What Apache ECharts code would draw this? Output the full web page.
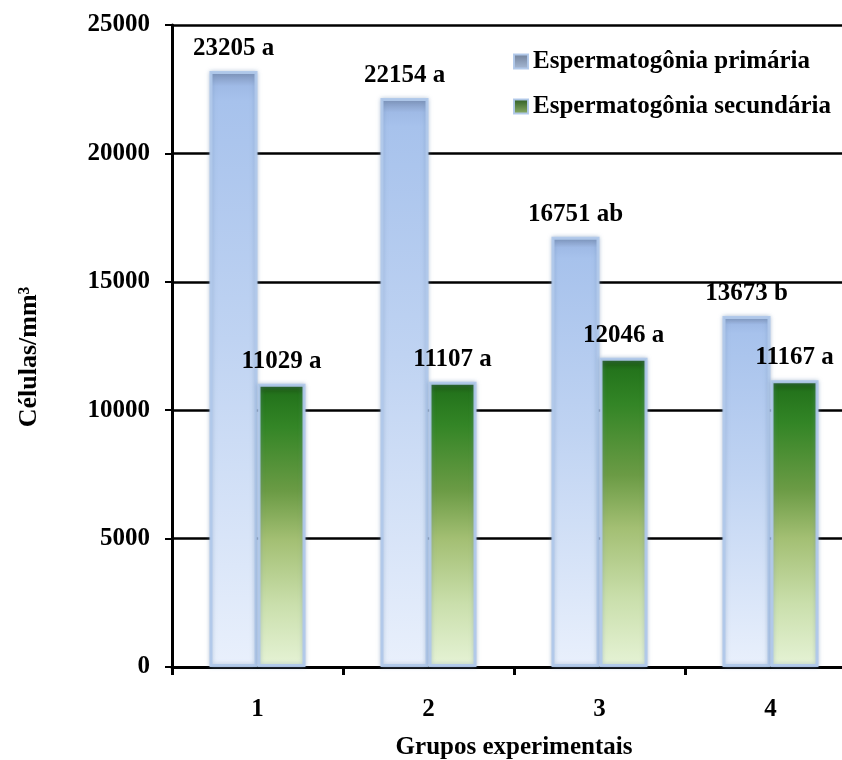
<!DOCTYPE html>
<html>
<head>
<meta charset="utf-8">
<script src="https://cdn.jsdelivr.net/npm/echarts@6/dist/echarts.min.js"></script>
<style>
  html, body { margin: 0; padding: 0; background: #ffffff; }
  #chart { width: 842px; height: 760px; }
</style>
</head>
<body>
<div id="chart"></div>
<script>
// Experimental groups on the x axis
const categories = ['1', '2', '3', '4'];

// Cell counts per mm³ and their significance letters
const primariaValues = [23205, 22154, 16751, 13673];
const primariaLetters = ['a', 'a', 'ab', 'b'];
const secundariaValues = [11029, 11107, 12046, 11167];
const secundariaLetters = ['a', 'a', 'a', 'a'];

const seriesNames = ['Espermatogônia primária', 'Espermatogônia secundária'];
const yTicks = { min: 0, max: 25000, interval: 5000 };

const FONT = '"Liberation Serif", "Times New Roman", serif';

const chart = echarts.init(document.getElementById('chart'), null, { renderer: 'canvas' });

const blueFill = new echarts.graphic.LinearGradient(0, 0, 0, 1, [
  { offset: 0, color: '#7a8fb4' },
  { offset: 0.025, color: '#9fbae6' },
  { offset: 0.05, color: '#a7c2ec' },
  { offset: 0.45, color: '#bfd3f2' },
  { offset: 1, color: '#e9f0fc' }
]);
const greenFill = new echarts.graphic.LinearGradient(0, 0, 0, 1, [
  { offset: 0, color: '#1b4f14' },
  { offset: 0.04, color: '#24741c' },
  { offset: 0.15, color: '#338526' },
  { offset: 0.38, color: '#6b9b45' },
  { offset: 0.55, color: '#a3bf73' },
  { offset: 0.78, color: '#cadfac' },
  { offset: 1, color: '#e6f3d6' }
]);
const legendBlue = new echarts.graphic.LinearGradient(0, 0, 0, 1, [
  { offset: 0, color: '#6f7f98' },
  { offset: 1, color: '#a9bcd8' }
]);
const legendGreen = new echarts.graphic.LinearGradient(0, 0, 0, 1, [
  { offset: 0, color: '#2b5a22' },
  { offset: 1, color: '#8fb06a' }
]);

const labelStyle = {
  show: true,
  position: 'top',
  distance: 10,
  fontFamily: FONT,
  fontWeight: 'bold',
  fontSize: 25,
  color: '#000'
};

const barBase = {
  type: 'bar',
  barWidth: 48,
  barGap: '0%'
};

chart.setOption({
  animation: false,
  backgroundColor: '#ffffff',
  textStyle: { fontFamily: FONT },
  grid: {
    left: 172, top: 25, width: 684, height: 642,
    containLabel: false,
    outerBoundsMode: 'none'
  },
  legend: {
    orient: 'vertical',
    left: 508,
    top: 44,
    itemWidth: 14,
    itemHeight: 14,
    itemGap: 20,
    icon: 'rect',
    textStyle: { fontFamily: FONT, fontWeight: 'bold', fontSize: 25, color: '#000', lineHeight: 25 },
    data: [
      { name: seriesNames[0], itemStyle: { color: legendBlue } },
      { name: seriesNames[1], itemStyle: { color: legendGreen } }
    ]
  },
  xAxis: {
    type: 'category',
    data: categories,
    name: 'Grupos experimentais',
    nameLocation: 'middle',
    nameGap: 68,
    nameTextStyle: { fontFamily: FONT, fontWeight: 'bold', fontSize: 25, color: '#000' },
    axisLine: { lineStyle: { color: '#000', width: 3 } },
    axisTick: { show: true, length: 8, lineStyle: { color: '#000', width: 3 } },
    axisLabel: { margin: 30, fontFamily: FONT, fontWeight: 'bold', fontSize: 25, color: '#000' },
    splitLine: { show: false }
  },
  yAxis: {
    type: 'value',
    min: yTicks.min,
    max: yTicks.max,
    interval: yTicks.interval,
    name: 'Células/mm³',
    nameLocation: 'middle',
    nameGap: 130,
    nameRotate: 90,
    nameTextStyle: { fontFamily: FONT, fontWeight: 'bold', fontSize: 26, color: '#000', padding: [0, 22, 0, 0] },
    axisLine: { show: true, lineStyle: { color: '#000', width: 3 } },
    axisTick: { show: true, length: 7, lineStyle: { color: '#000', width: 2 } },
    axisLabel: {
      margin: 22, fontFamily: FONT, fontWeight: 'bold', fontSize: 25, color: '#000',
      formatter: v => String(v)
    },
    splitLine: { show: true, lineStyle: { color: '#000', width: 2.5 } }
  },
  series: [
    Object.assign({}, barBase, {
      name: seriesNames[0],
      data: primariaValues,
      itemStyle: {
        color: blueFill,
        borderColor: 'rgba(176,200,234,0.95)',
        borderWidth: 3,
        shadowBlur: 4,
        shadowColor: 'rgba(110,140,180,0.45)'
      },
      label: Object.assign({}, labelStyle, {
        formatter: p => p.value + ' ' + primariaLetters[p.dataIndex]
      })
    }),
    Object.assign({}, barBase, {
      name: seriesNames[1],
      data: secundariaValues,
      itemStyle: {
        color: greenFill,
        borderColor: 'rgba(176,200,234,0.95)',
        borderWidth: 3,
        shadowBlur: 4,
        shadowColor: 'rgba(110,140,180,0.45)'
      },
      label: Object.assign({}, labelStyle, {
        formatter: p => p.value + ' ' + secundariaLetters[p.dataIndex]
      })
    })
  ]
});
</script>
</body>
</html>
